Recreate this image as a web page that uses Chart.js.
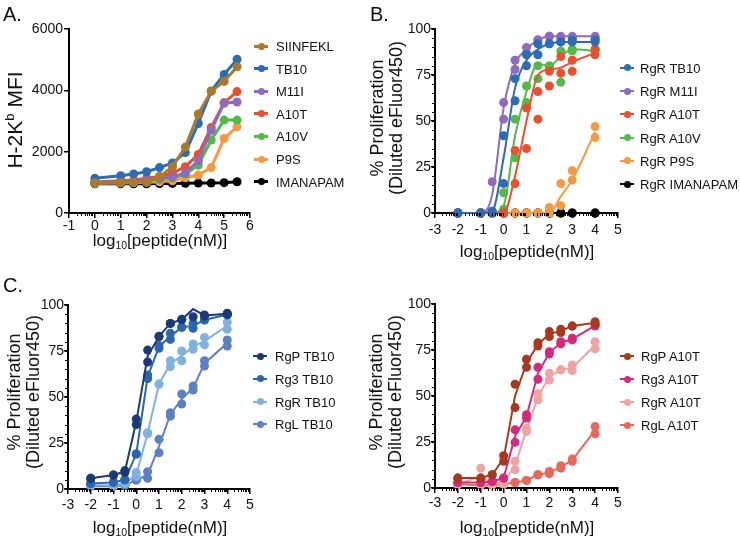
<!DOCTYPE html>
<html>
<head>
<meta charset="utf-8">
<script src="https://cdn.jsdelivr.net/npm/chart.js@4.4.1/dist/chart.umd.min.js"></script>
<style>
  body { margin:0; width:740px; height:539px; position:relative; overflow:hidden; background:#fff;
         font-family:"Liberation Sans", Arial, Helvetica, sans-serif; color:#111; }
  canvas { position:absolute; }
  .lbl { position:absolute; white-space:nowrap; line-height:1; }
  .c { transform:translate(-50%,-50%); }
  .r { transform:translate(-50%,-50%) rotate(-90deg); }
  .lv { transform:translateY(-50%); font-size:13px; }
  .mk { position:absolute; }
  .dot { position:absolute; border-radius:50%; }
  sub { font-size:0.62em; vertical-align:-0.3em; line-height:0; }
  sup { font-size:0.62em; vertical-align:0.6em; line-height:0; }
</style>
</head>
<body>
<canvas id="cA" width="370" height="270" style="left:0;top:0"></canvas>
<canvas id="cB" width="370" height="270" style="left:370px;top:0"></canvas>
<canvas id="cC1" width="370" height="269" style="left:0;top:270px"></canvas>
<canvas id="cC2" width="370" height="269" style="left:370px;top:270px"></canvas>
<div id="txt"></div>
<script>
// ---- panel A: H-2Kb MFI
const aX = [0, 1, 1.5, 2, 2.5, 3, 3.5, 4, 4.5, 5, 5.5];
const aNames = ['SIINFEKL', 'TB10', 'M11I', 'A10T', 'A10V', 'P9S', 'IMANAPAM'];
const aColors = ['#a97a2d', '#2b6cb3', '#8f6bbd', '#e8502e', '#54b948', '#f59a42', '#000000'];
const siinfekl = [985, 995, 1000, 1010, 1180, 1510, 2150, 3230, 3970, 4290, 4770];
const tb10A    = [1130, 1215, 1275, 1345, 1480, 1630, 1970, 2920, 3980, 4520, 5010];
const m11iA    = [1000, 1020, 1040, 1080, 1130, 1180, 1300, 1700, 2700, 3580, 3620];
const a10tA    = [1010, 1050, 1080, 1130, 1190, 1300, 1510, 1910, 2790, 3600, 3960];
const a10vA    = [980, 1000, 1020, 1050, 1090, 1140, 1270, 1560, 2380, 3030, 3030];
const p9sA     = [970, 980, 990, 1000, 1020, 1050, 1150, 1240, 1480, 2430, 2810];
const imanA    = [950, 955, 955, 955, 960, 965, 970, 975, 980, 990, 1020];
const aSeries = [siinfekl, tb10A, m11iA, a10tA, a10vA, p9sA, imanA];

// ---- shared dose grid for B and C
const dX = [-2, -1, -0.5, 0, 0.5, 1, 1.5, 2, 2.5, 3, 4];

// ---- panel B: RgR proliferation, replicates + fitted curve
const bNames = ['RgR TB10', 'RgR M11I', 'RgR A10T', 'RgR A10V', 'RgR P9S', 'RgR IMANAPAM'];
const bColors = ['#2b6cb3', '#8f6bbd', '#e8502e', '#54b948', '#f59a42', '#000000'];
const bTb10R1 = [0, 0, 0, 16, 61, 80, 86, 92, 93, 93, 93];
const bTb10R2 = [0, 0, 1, 42, 73, 86, 92, 92, 93, 94, 94];
const bTb10Fit = [0, 0, 1, 30, 68, 83, 89, 92, 93, 93, 93];
const bM11iR1 = [0, 0, 17, 51, 78, 87, 94, 96, 96, 96, 96];
const bM11iR2 = [0, 0, 1, 60, 83, 90, 94, 96, 95, 95, 95];
const bM11iFit = [0, 0, 10, 57, 81, 89, 94, 96, 96, 96, 96];
const bA10tR1 = [0, 0, 0, 0, 16, 35, 51, 69, 76, 77, 86];
const bA10tR2 = [0, 0, 0, 0, 34, 57, 66, 77, 85, 83, 89];
const bA10tFit = [0, 0, 0, 0, 20, 50, 75, 78, 79, 82, 87];
const bA10vR1 = [0, 0, 0, 11, 51, 69, 73, 79, 71, 89, 88];
const bA10vR2 = [0, 0, 0, 2, 30, 60, 80, 80, 88, 88, 89];
const bA10vFit = [0, 0, 0, 4, 42, 66, 81, 80, 85, 89, 88];
const bP9sR1 = [0, 0, 0, 0, 0, 0, 0, 3, 16, 23, 47];
const bP9sR2 = [0, 0, 0, 0, 0, 0, 0, 0, 4, 18, 41];
const bP9sFit = [0, 0, 0, 0, 0, 0, 0, 0, 9, 18, 44];
const bImanR1 = [0, 0, 0, 0, 0, 0, 0, 0, 0, 0, 0];
const bImanR2 = [0, 0, 0, 0, 0, 0, 0, 0, 0, 0, 0];
const bImanFit = [0, 0, 0, 0, 0, 0, 0, 0, 0, 0, 0];

// ---- panel C left: TB10 across clones
const c1Names = ['RgP TB10', 'Rg3 TB10', 'RgR TB10', 'RgL TB10'];
const c1Colors = ['#1c3a78', '#2a66ad', '#7fb2dd', '#5c80c1'];
const rgpTbR1 = [5.8, 7.6, 9, 38, 75.5, 82.8, 90, 92.2, 93.6, 94.6, 95.5];
const rgpTbR2 = [5.8, 7.6, 10, 35, 69, 83, 90, 92, 102, 94, 95];
const rg3TbR1 = [3, 3.6, 5, 19, 60, 76.5, 84.6, 87.9, 87.3, 91.8, 94.6];
const rg3TbR2 = [3, 3.6, 5, 19, 62, 78, 81.3, 88, 90, 92, 95];
const rgrTbR1 = [2, 2, 3, 8.9, 30, 57, 66.5, 69.7, 75.9, 78.3, 86.8];
const rgrTbR2 = [2, 2, 3, 6.7, 30.6, 57, 69.7, 75, 78.8, 82.4, 90.6];
const rglTbR1 = [1.5, 1.5, 2, 4.9, 9.4, 27, 41.5, 51.6, 56, 69.7, 81];
const rglTbR2 = [1.5, 1.5, 2, 4.9, 5.8, 19.7, 39.6, 46.2, 53.8, 66.8, 77.7];

// ---- panel C right: A10T across clones
const c2Names = ['RgP A10T', 'Rg3 A10T', 'RgR A10T', 'RgL A10T'];
const c2Colors = ['#a8391f', '#d42a7d', '#f0a3a3', '#e8695c'];
const rgpAtR1 = [5.4, 5.4, 7.2, 17.5, 56.4, 70, 79, 85, 86.3, 88, 90.4];
const rgpAtR2 = [5.4, 5.4, 7.2, 14.5, 43.7, 65.6, 77.2, 82.3, 84.5, 88, 89.2];
const rg3AtR1 = [3, 3, 3.5, 5.4, 31.6, 39.8, 65.6, 74.1, 79.5, 81.4, 88];
const rg3AtR2 = [3, 3, 3.5, 5.4, 24.8, 38, 59.1, 72.8, 78.3, 80.5, 88.6];
const rgrAtR1 = [2, 10.8, 2, 4, 14.5, 32.5, 51.2, 62.4, 64.2, 66.9, 79.5];
const rgrAtR2 = [2, 2, 2, 2, 10, 30.7, 47.9, 58.7, 64.2, 63.8, 75.6];
const rglAtR1 = [2, 1.5, 1.5, 2, 3, 4.1, 7.2, 9, 12.1, 15.7, 33.4];
const rglAtR2 = [2, 1.5, 1.5, 2, 3, 4.1, 7.2, 7.8, 10.8, 14.5, 29.5];

const pts = (xs, ys) => xs.map((x, i) => ({ x, y: ys[i] }));
const mean = (a, b) => a.map((v, i) => (v + b[i]) / 2);

// small minor ticks (log spacing on x, fixed step on y)
const minorTicks = {
  id: 'minorTicks',
  afterDraw(chart, args, o) {
    const ctx = chart.ctx, a = chart.chartArea, xs = chart.scales.x, ys = chart.scales.y;
    ctx.save(); ctx.strokeStyle = '#000'; ctx.lineWidth = 1;
    if (o.xLog) {
      for (let n = Math.floor(xs.min); n < xs.max; n++) for (let k = 2; k < 10; k++) {
        const px = Math.round(xs.getPixelForValue(n + Math.log10(k))) + 0.5;
        ctx.beginPath(); ctx.moveTo(px, a.bottom); ctx.lineTo(px, a.bottom + 3); ctx.stroke();
      }
    }
    if (o.yStep) {
      for (let v = ys.min; v <= ys.max; v += o.yStep) {
        const py = Math.round(ys.getPixelForValue(v)) + 0.5;
        ctx.beginPath(); ctx.moveTo(a.left, py); ctx.lineTo(a.left - 3, py); ctx.stroke();
      }
    }
    ctx.restore();
  }
};

function axis(min, max, step, fit, pad, tl) {
  return {
    type: 'linear', min, max,
    ticks: { stepSize: step, font: { size: 14 }, color: '#111', padding: pad, autoSkip: false, maxRotation: 0,
             callback: v => String(v) },
    grid: { drawOnChartArea: false, drawTicks: true, tickLength: tl, color: '#000', lineWidth: 1.5 },
    border: { color: '#000', width: 2 },
    afterFit: fit
  };
}

function build(id, lay, xr, yr, datasets, minor) {
  return new Chart(document.getElementById(id), {
    type: 'scatter',
    data: { datasets },
    options: {
      responsive: false, animation: false, devicePixelRatio: 1,
      layout: { padding: { left: 0, top: lay.top, right: lay.right, bottom: 0 } },
      plugins: { legend: { display: false }, tooltip: { enabled: false }, minorTicks: minor },
      scales: {
        x: axis(xr[0], xr[1], 1, s => { s.height = lay.xh; }, lay.xpad, 5),
        y: axis(yr[0], yr[1], yr[2], s => { s.width = lay.yw; }, lay.ypad, lay.ytl)
      }
    },
    plugins: [minorTicks]
  });
}

function lineDs(color, xs, ys, w, r, smooth) {
  return { data: pts(xs, ys), showLine: true, borderColor: color, backgroundColor: color, borderWidth: w,
    pointRadius: r, pointBorderWidth: 0, pointBackgroundColor: color,
    cubicInterpolationMode: smooth ? 'monotone' : 'default', tension: 0, clip: 6 };
}
function dotDs(color, xs, r1, r2) {
  return { data: pts(xs, r1).concat(pts(xs, r2)), showLine: false, pointRadius: 4.5, pointBorderWidth: 0,
    pointBackgroundColor: color, backgroundColor: color, borderColor: color,
    clip: { left: 6, right: 6, bottom: 6, top: -1 } };
}

// A
build('cA', { top: 29, right: 120, xh: 57, yw: 69, xpad: 0, ypad: 1, ytl: 5 }, [-1, 6], [0, 6000, 2000],
  aSeries.map((s, i) => lineDs(aColors[i], aX, s, 3, 4.5, false)), { xLog: true });

// B
const bSets = [[bTb10R1, bTb10R2, bTb10Fit], [bM11iR1, bM11iR2, bM11iFit], [bA10tR1, bA10tR2, bA10tFit],
  [bA10vR1, bA10vR2, bA10vFit], [bP9sR1, bP9sR2, bP9sFit], [bImanR1, bImanR2, bImanFit]];
const bDs = [];
bSets.forEach((s, i) => { bDs.push(lineDs(bColors[i], dX, s[2], 2, 0, true)); bDs.push(dotDs(bColors[i], dX, s[0], s[1])); });
build('cB', { top: 29, right: 122, xh: 57, yw: 65, xpad: 4, ypad: 0, ytl: 4 }, [-3, 5], [0, 100, 25], bDs, { xLog: true, yStep: 5 });

// C left
const c1Sets = [[rgpTbR1, rgpTbR2], [rg3TbR1, rg3TbR2], [rgrTbR1, rgrTbR2], [rglTbR1, rglTbR2]];
const c1Ds = [];
c1Sets.forEach((s, i) => { c1Ds.push(lineDs(c1Colors[i], dX, mean(s[0], s[1]), 2, 0, false)); c1Ds.push(dotDs(c1Colors[i], dX, s[0], s[1])); });
build('cC1', { top: 35, right: 120, xh: 50, yw: 68, xpad: 3, ypad: 0, ytl: 4 }, [-3, 5], [0, 100, 25], c1Ds, { xLog: true, yStep: 5 });

// C right
const c2Sets = [[rgpAtR1, rgpAtR2], [rg3AtR1, rg3AtR2], [rgrAtR1, rgrAtR2], [rglAtR1, rglAtR2]];
const c2Ds = [];
c2Sets.forEach((s, i) => { c2Ds.push(lineDs(c2Colors[i], dX, mean(s[0], s[1]), 2, 0, false)); c2Ds.push(dotDs(c2Colors[i], dX, s[0], s[1])); });
build('cC2', { top: 34, right: 122, xh: 51, yw: 65, xpad: 2, ypad: 0, ytl: 4 }, [-3, 5], [0, 100, 25], c2Ds, { xLog: true, yStep: 5 });

// ---- text, titles, legends
const txt = document.getElementById('txt');
function add(html) { txt.insertAdjacentHTML('beforeend', html); }
function label(x, y, size, html, cls) {
  add(`<div class="lbl ${cls}" style="left:${x}px;top:${y}px;font-size:${size}px">${html}</div>`);
}
function legend(names, colors, mx, tx, y0, dy, lw) {
  names.forEach((n, i) => {
    const y = y0 + i * dy;
    add(`<div class="mk" style="left:${mx}px;top:${y - lw / 2}px;width:14px;height:${lw}px;background:${colors[i]}"></div>`);
    add(`<div class="dot" style="left:${mx + 3.5}px;top:${y - 3.5}px;width:7px;height:7px;background:${colors[i]}"></div>`);
    add(`<div class="lbl lv" style="left:${tx}px;top:${y}px">${n}</div>`);
  });
}

const xTitle = 'log<sub>10</sub>[peptide(nM)]';
label(3, 4, 20, 'A.', '');
label(370, 4, 20, 'B.', '');
label(3, 275, 20, 'C.', '');

label(14, 120, 21, 'H-2K<sup>b</sup> MFI', 'r');
label(160, 240, 17, xTitle, 'c');
label(377, 118, 18, '% Proliferation', 'r');
label(396, 118, 18, '(Diluted eFluor450)', 'r');
label(527, 251, 17, xTitle, 'c');
label(14, 392, 18, '% Proliferation', 'r');
label(33, 392, 18, '(Diluted eFluor450)', 'r');
label(160, 527, 17, xTitle, 'c');
label(376, 392, 18, '% Proliferation', 'r');
label(395, 392, 18, '(Diluted eFluor450)', 'r');
label(527, 527, 17, xTitle, 'c');

legend(aNames, aColors, 254, 276, 46, 22.6, 3);
legend(bNames, bColors, 620, 640, 67.7, 23.3, 2);
legend(c1Names, c1Colors, 253, 275, 356, 22.8, 2);
legend(c2Names, c2Colors, 620, 641, 356, 23, 2);
</script>
</body>
</html>
